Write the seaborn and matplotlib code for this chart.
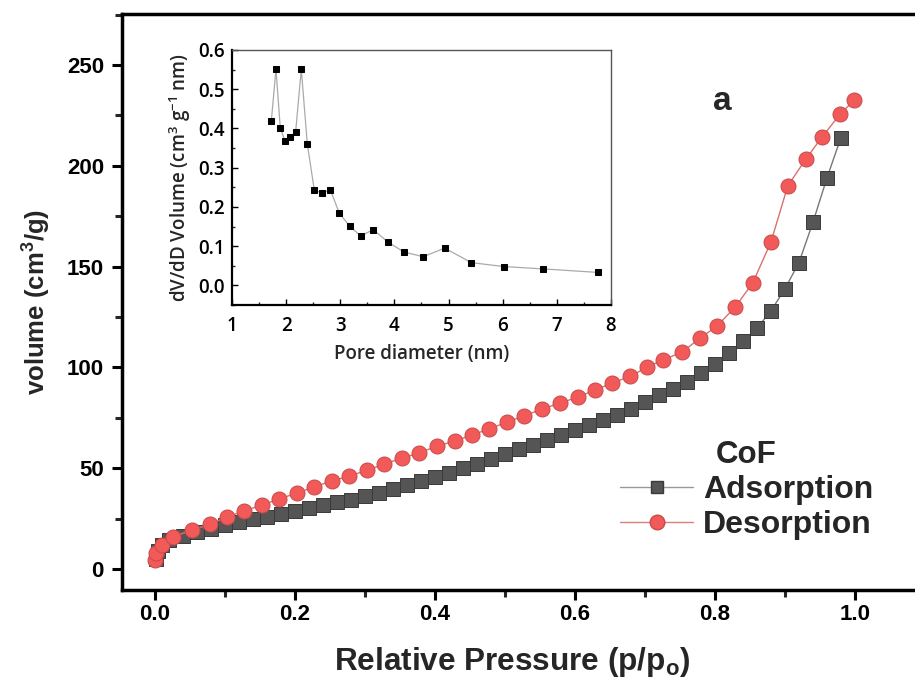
import matplotlib
matplotlib.use("Agg")
import matplotlib.pyplot as plt
from matplotlib.ticker import MultipleLocator
from matplotlib.lines import Line2D
import seaborn as sns
import pandas as pd

# N2 isotherm of CoF: adsorption branch
ads_p = [0.001, 0.005, 0.01, 0.02, 0.04, 0.06, 0.08, 0.10, 0.12, 0.14, 0.16, 0.18,
         0.20, 0.22, 0.24, 0.26, 0.28, 0.30, 0.32, 0.34, 0.36, 0.38, 0.40, 0.42,
         0.44, 0.46, 0.48, 0.50, 0.52, 0.54, 0.56, 0.58, 0.60, 0.62, 0.64, 0.66,
         0.68, 0.70, 0.72, 0.74, 0.76, 0.78, 0.80, 0.82, 0.84, 0.86, 0.88, 0.90,
         0.92, 0.94, 0.96, 0.98]
ads_v = [5.0, 9.0, 12.0, 14.5, 16.5, 18.3, 20.0, 21.6, 23.1, 24.6, 26.0, 27.5,
         28.9, 30.3, 31.7, 33.0, 34.4, 36.0, 37.7, 39.5, 41.5, 43.5, 45.6, 47.8,
         50.0, 52.3, 54.6, 57.0, 59.3, 61.6, 64.0, 66.4, 68.8, 71.2, 73.8, 76.5,
         79.5, 83.0, 86.5, 89.5, 93.0, 97.0, 101.5, 107.0, 113.0, 119.5, 128.0, 139.0,
         152.0, 172.0, 194.0, 214.0]

# desorption branch
des_p = [0.0005, 0.002, 0.01, 0.026, 0.053, 0.079, 0.103, 0.127, 0.153, 0.177,
         0.203, 0.227, 0.253, 0.277, 0.303, 0.327, 0.353, 0.377, 0.403, 0.429,
         0.453, 0.477, 0.503, 0.527, 0.553, 0.579, 0.604, 0.629, 0.653, 0.679,
         0.703, 0.726, 0.753, 0.779, 0.803, 0.829, 0.854, 0.880, 0.904, 0.930,
         0.953, 0.979, 0.999]
des_v = [4.5, 8.0, 12.0, 16.0, 19.3, 22.3, 25.8, 28.8, 31.7, 34.7,
         37.7, 40.7, 43.7, 46.0, 49.0, 52.0, 55.0, 57.5, 61.0, 63.5,
         66.5, 69.4, 72.9, 75.9, 79.4, 82.3, 85.3, 88.8, 92.3, 95.5,
         100.2, 103.7, 107.6, 114.6, 120.5, 130.0, 141.9, 162.2, 190.0, 203.4,
         214.3, 225.7, 232.6]

# pore size distribution
pore_d = [1.727, 1.813, 1.893, 1.979, 2.078, 2.176, 2.281, 2.392, 2.521, 2.669,
          2.816, 2.983, 3.174, 3.377, 3.611, 3.876, 4.177, 4.534, 4.929, 5.421,
          6.018, 6.745, 7.761]
pore_dv = [0.419, 0.551, 0.401, 0.368, 0.379, 0.391, 0.551, 0.360, 0.243, 0.235,
           0.244, 0.184, 0.151, 0.126, 0.142, 0.111, 0.085, 0.073, 0.095, 0.058,
           0.048, 0.042, 0.033]

main_xticks = [0.0, 0.2, 0.4, 0.6, 0.8, 1.0]
main_yticks = [0, 50, 100, 150, 200, 250]
inset_xticks = [1, 2, 3, 4, 5, 6, 7, 8]
inset_yticks = [0.0, 0.1, 0.2, 0.3, 0.4, 0.5, 0.6]

sns.set_theme(style="ticks")
plt.rcParams["font.family"] = ["Liberation Sans", "DejaVu Sans"]
plt.rcParams["mathtext.fontset"] = "custom"
plt.rcParams["mathtext.rm"] = "Liberation Sans:bold"
plt.rcParams["mathtext.it"] = "Liberation Sans:bold"
plt.rcParams["mathtext.bf"] = "Liberation Sans:bold"

ads_df = pd.DataFrame({"p": ads_p, "v": ads_v})
des_df = pd.DataFrame({"p": des_p, "v": des_v})
psd_df = pd.DataFrame({"d": pore_d, "dv": pore_dv})

fig = plt.figure(figsize=(9.15, 6.82), dpi=100)
ax = fig.add_axes([0.1333, 0.1349, 0.8776, 0.8446])

ads_color = "#555555"
des_color = "#f25a5a"

sns.lineplot(data=ads_df, x="p", y="v", ax=ax, sort=False, color="#777777",
             linewidth=1.0, marker="s", markersize=9.8, markerfacecolor=ads_color,
             markeredgecolor="#3a3a3a", markeredgewidth=0.7, zorder=3)
sns.lineplot(data=des_df, x="p", y="v", ax=ax, sort=False, color="#d97070",
             linewidth=1.0, marker="o", markersize=10.8, markerfacecolor=des_color,
             markeredgecolor="#c94848", markeredgewidth=0.7, zorder=4)

ax.set_xlim(-0.047, 1.1)
ax.set_ylim(-10.4, 275.3)
ax.set_xticks(main_xticks)
ax.set_xticklabels([f"{t:.1f}" for t in main_xticks])
ax.set_yticks(main_yticks)
ax.set_yticklabels([str(t) for t in main_yticks])
ax.xaxis.set_minor_locator(MultipleLocator(0.1))
ax.yaxis.set_minor_locator(MultipleLocator(25))
ax.tick_params(axis="both", which="major", direction="out", length=7, width=2.2,
               labelsize=16, colors="black")
ax.tick_params(axis="x", which="major", pad=3)
ax.tick_params(axis="y", which="major", pad=6)
ax.tick_params(axis="both", which="minor", direction="out", length=5, width=2.2)
for lab in ax.get_xticklabels() + ax.get_yticklabels():
    lab.set_fontweight("bold")
for side in ["left", "bottom", "top", "right"]:
    ax.spines[side].set_linewidth(2.5)
    ax.spines[side].set_color("black")

ax.set_xlabel(r"Relative Pressure (p/p$_\mathregular{o}$)", fontsize=22.7,
              fontweight="bold")
ax.xaxis.set_label_coords(0.486, -0.095)
ax.set_ylabel(r"volume (cm$^\mathregular{3}$/g)", fontsize=18.5,
              fontweight="bold", labelpad=10)

ax.text(0.81, 232, "a", fontsize=24, fontweight="bold", ha="center", va="center")

handles = [
    Line2D([], [], color="#999999", linewidth=1.0, marker="s", markersize=8.5,
           markerfacecolor=ads_color, markeredgecolor="#3a3a3a"),
    Line2D([], [], color="#d98080", linewidth=1.0, marker="o", markersize=10.5,
           markerfacecolor=des_color, markeredgecolor="#c94848"),
]
leg = ax.legend(handles, ["Adsorption", "Desorption"], title="CoF",
                loc="upper left", bbox_to_anchor=(0.653, 0.387),
                bbox_transform=fig.transFigure, frameon=False,
                handlelength=2.3, handletextpad=0.3, labelspacing=0.15,
                borderpad=0.2, prop={"size": 23, "weight": "bold"})
leg.get_title().set_fontsize(22.5)
leg.get_title().set_fontweight("bold")

# inset: pore size distribution
ins = fig.add_axes([0.2535, 0.5528, 0.4142, 0.3739])
ins.set_facecolor("white")
sns.lineplot(data=psd_df, x="d", y="dv", ax=ins, sort=False, color="#aaaaaa",
             linewidth=0.9, marker="s", markersize=4.5, markerfacecolor="black",
             markeredgecolor="black")
ins.set_xlim(1, 8)
ins.set_ylim(-0.05, 0.6)
ins.set_xticks(inset_xticks)
ins.set_yticks(inset_yticks)
ins.set_yticklabels([f"{t:.1f}" for t in inset_yticks])
ins.xaxis.set_minor_locator(MultipleLocator(0.5))
ins.yaxis.set_minor_locator(MultipleLocator(0.05))
ins.tick_params(axis="both", which="major", direction="in", length=4, width=1.0,
                labelsize=13.5, colors="black")
ins.tick_params(axis="x", which="major", pad=8)
ins.tick_params(axis="y", which="major", pad=5)
ins.tick_params(axis="both", which="minor", direction="in", length=2.5, width=1.0)
for lab in ins.get_xticklabels() + ins.get_yticklabels():
    lab.set_fontfamily("Open Sans")
    lab.set_fontweight("semibold")
ins.spines["left"].set_linewidth(1.6)
ins.spines["bottom"].set_linewidth(1.6)
ins.spines["left"].set_color("black")
ins.spines["bottom"].set_color("black")
ins.spines["top"].set_linewidth(1.0)
ins.spines["right"].set_linewidth(1.0)
ins.spines["top"].set_color("#555555")
ins.spines["right"].set_color("#555555")
ins.set_xlabel("Pore diameter (nm)", fontsize=13.5, fontfamily="Open Sans",
               fontweight="semibold", labelpad=6)
ins.set_ylabel(r"dV/dD Volume (cm$^{\mathregular{3}}$ g$^{\mathregular{-1}}$ nm)",
               fontsize=13.5, fontfamily="Open Sans", fontweight="semibold", labelpad=4)

fig.savefig("out.png", dpi=100)
